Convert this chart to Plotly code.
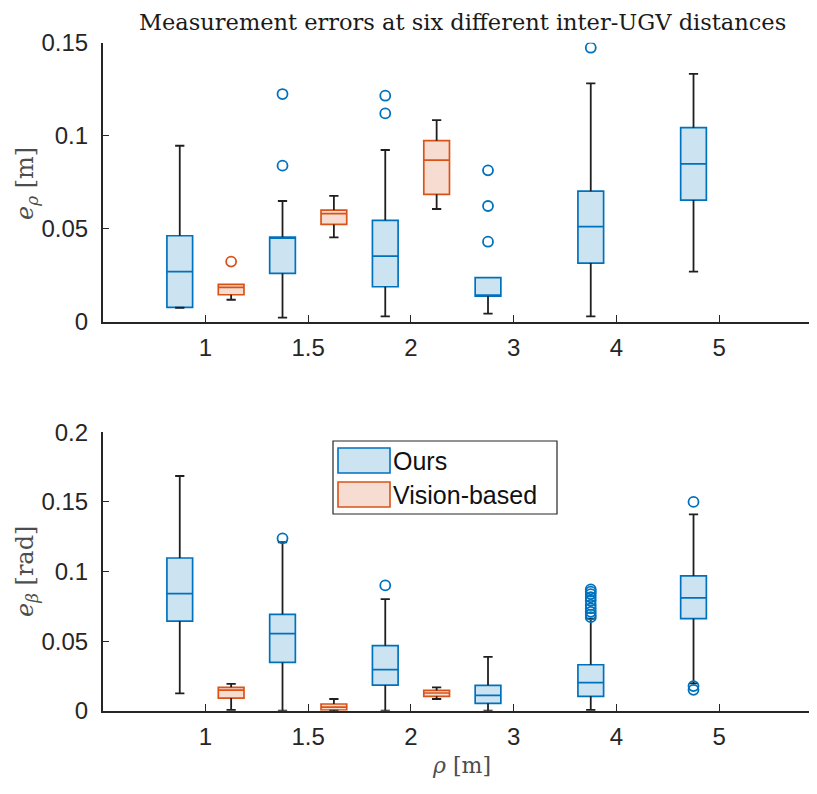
import plotly.graph_objects as go

W, H = 817, 794
OFF = 8  # page body margin in the browser

categories = ["1", "1.5", "2", "3", "4", "5"]

# ---- e_rho [m] (top) ----
rho_ours_q1 = [0.0077, 0.0260, 0.0188, 0.0138, 0.0315, 0.0654]
rho_ours_med = [0.0269, 0.0455, 0.0353, 0.0138, 0.0511, 0.0849]
rho_ours_q3 = [0.0462, 0.0455, 0.0545, 0.0237, 0.0702, 0.1043]
rho_ours_lo = [0.0075, 0.0022, 0.0029, 0.0043, 0.0029, 0.0269]
rho_ours_hi = [0.0946, 0.0649, 0.0923, 0.0237, 0.1281, 0.1332]
rho_ours_out = [[], [0.1224, 0.0839], [0.1215, 0.1120], [0.0814, 0.0622, 0.0430], [0.1473], []]

rho_vis_q1 = [0.0145, 0.0523, 0.0685]
rho_vis_med = [0.0185, 0.0581, 0.0869]
rho_vis_q3 = [0.0201, 0.0600, 0.0973]
rho_vis_lo = [0.0118, 0.0453, 0.0606]
rho_vis_hi = [0.0201, 0.0677, 0.1084]
rho_vis_out = [[0.0323], [], []]

# ---- e_beta [rad] (bottom) ----
beta_ours_q1 = [0.0644, 0.0347, 0.0184, 0.0053, 0.0103, 0.0661]
beta_ours_med = [0.0841, 0.0553, 0.0295, 0.0110, 0.0201, 0.0810]
beta_ours_q3 = [0.1097, 0.0692, 0.0467, 0.0182, 0.0330, 0.0968]
beta_ours_lo = [0.0125, 0.0000, 0.0000, 0.0000, 0.0005, 0.0196]
beta_ours_hi = [0.1686, 0.1210, 0.0802, 0.0386, 0.0661, 0.1410]
beta_ours_out = [[], [0.1238], [0.0900], [],
                 [0.0872, 0.0855, 0.0838, 0.0815, 0.0790, 0.0760, 0.0735, 0.0710, 0.0690, 0.0672],
                 [0.1500, 0.0177, 0.0150]]

beta_vis_q1 = [0.0091, 0.0005, 0.0103]
beta_vis_med = [0.0148, 0.0026, 0.0127]
beta_vis_q3 = [0.0168, 0.0048, 0.0146]
beta_vis_lo = [0.0005, 0.0000, 0.0084]
beta_vis_hi = [0.0192, 0.0084, 0.0168]
beta_vis_out = [[], [], []]

rho_ticks = [0, 0.05, 0.1, 0.15]
rho_ticktext = ["0", "0.05", "0.1", "0.15"]
beta_ticks = [0, 0.05, 0.1, 0.15, 0.2]
beta_ticktext = ["0", "0.05", "0.1", "0.15", "0.2"]

BLUE = "#0072BD"
BLUE_FILL = "#CCE3F2"
ORANGE = "#D95319"
ORANGE_FILL = "#F7DDD1"
DARK = "#262626"

OFFSET = 0.25
BOXW = 0.25
CAP = 0.045


def px(x):
    return (x - OFF) / W


def py(y):
    return 1 - (y - OFF) / H


fig = go.Figure()


def add_group(xa, ya, offset, q1, med, q3, lo, hi, outs, col, fill):
    pos = [i + 1 + offset for i in range(len(q1))]
    wx, wy = [], []
    for p, a, b, l, h in zip(pos, q1, q3, lo, hi):
        if h > b:
            wx += [p, p, None, p - CAP, p + CAP, None]
            wy += [b, h, None, h, h, None]
        if l < a:
            wx += [p, p, None, p - CAP, p + CAP, None]
            wy += [a, l, None, l, l, None]
    fig.add_trace(go.Scatter(x=wx, y=wy, mode="lines", xaxis=xa, yaxis=ya,
                             line=dict(color="#1f1f1f", width=1.8), showlegend=False,
                             hoverinfo="skip"))
    fig.add_trace(go.Box(x=pos, q1=q1, median=med, q3=q3, lowerfence=q1, upperfence=q3,
                         xaxis=xa, yaxis=ya, width=BOXW, whiskerwidth=0,
                         line=dict(color=col, width=1.7), fillcolor=fill,
                         boxpoints=False, showlegend=False))
    ox, oy = [], []
    for p, o in zip(pos, outs):
        for v in o:
            ox.append(p)
            oy.append(v)
    if ox:
        fig.add_trace(go.Scatter(x=ox, y=oy, mode="markers", xaxis=xa, yaxis=ya,
                                 marker=dict(symbol="circle-open", size=10, color=col,
                                             line=dict(width=1.8, color=col)),
                                 showlegend=False))


add_group("x", "y", -OFFSET, rho_ours_q1, rho_ours_med, rho_ours_q3, rho_ours_lo, rho_ours_hi,
          rho_ours_out, BLUE, BLUE_FILL)
add_group("x", "y", OFFSET, rho_vis_q1, rho_vis_med, rho_vis_q3, rho_vis_lo, rho_vis_hi,
          rho_vis_out, ORANGE, ORANGE_FILL)
add_group("x2", "y2", -OFFSET, beta_ours_q1, beta_ours_med, beta_ours_q3, beta_ours_lo,
          beta_ours_hi, beta_ours_out, BLUE, BLUE_FILL)
add_group("x2", "y2", OFFSET, beta_vis_q1, beta_vis_med, beta_vis_q3, beta_vis_lo,
          beta_vis_hi, beta_vis_out, ORANGE, ORANGE_FILL)

XR = [0, (817 - 102.7) / 102.75]
tickfont = dict(family="Liberation Sans, Arial, sans-serif", size=24, color=DARK)
xcommon = dict(range=XR, tickvals=list(range(1, len(categories) + 1)), ticktext=categories,
               ticks="inside", ticklen=7, tickwidth=1.2, tickcolor=DARK, showline=True,
               linecolor=DARK, linewidth=1.5, showgrid=False, zeroline=False,
               tickfont=tickfont, domain=[px(102.7), px(817)], automargin=False,
               ticklabelstandoff=4)
ycommon = dict(ticks="inside", ticklen=7, tickwidth=1.2, tickcolor=DARK, showline=True,
               linecolor=DARK, linewidth=1.5, showgrid=False, zeroline=False,
               tickfont=tickfont, automargin=False, ticklabelstandoff=8)

fig.update_layout(
    width=W, height=H,
    margin=dict(l=0, r=0, t=0, b=0, autoexpand=False),
    paper_bgcolor="white", plot_bgcolor="white",
    showlegend=False,
    xaxis=dict(**xcommon, anchor="y"),
    yaxis=dict(**ycommon, range=[0, 0.15], tickvals=rho_ticks, ticktext=rho_ticktext,
               domain=[py(321.7), py(42.7)], anchor="x"),
    xaxis2=dict(**xcommon, anchor="y2"),
    yaxis2=dict(**ycommon, range=[0, 0.2], tickvals=beta_ticks, ticktext=beta_ticktext,
                domain=[py(710.7), py(432.3)], anchor="x2"),
)

serif = "DejaVu Serif, serif"
LABEL = "#4d4d4d"
annotations = [
    dict(text="Measurement errors at six different inter-UGV distances", x=px(462), y=py(22),
         xref="paper", yref="paper", showarrow=False, xanchor="center", yanchor="middle",
         font=dict(family=serif, size=22.5, color="#1a1a1a")),
    dict(text="<i>e</i><sub><i>ρ</i></sub> [m]", x=px(26), y=py(184), xref="paper",
         yref="paper", showarrow=False, textangle=-90, xanchor="center", yanchor="middle",
         font=dict(family=serif, size=24, color=LABEL)),
    dict(text="<i>e</i><sub><i>β</i></sub> [rad]", x=px(26), y=py(572), xref="paper",
         yref="paper", showarrow=False, textangle=-90, xanchor="center", yanchor="middle",
         font=dict(family=serif, size=24, color=LABEL)),
    dict(text="<i>ρ</i> [m]", x=px(461), y=py(765), xref="paper", yref="paper",
         showarrow=False, xanchor="center", yanchor="middle",
         font=dict(family=serif, size=22, color=LABEL)),
    dict(text="Ours", x=px(391), y=py(461), xref="paper", yref="paper", showarrow=False,
         xanchor="left", yanchor="middle",
         font=dict(family="Liberation Sans, Arial, sans-serif", size=25, color="#111111")),
    dict(text="Vision-based", x=px(391), y=py(495), xref="paper", yref="paper",
         showarrow=False, xanchor="left", yanchor="middle",
         font=dict(family="Liberation Sans, Arial, sans-serif", size=25, color="#111111")),
]
shapes = [
    dict(type="rect", xref="paper", yref="paper", x0=px(333), x1=px(557), y0=py(514),
         y1=py(441), line=dict(color=DARK, width=1.2), fillcolor="white"),
    dict(type="rect", xref="paper", yref="paper", x0=px(338), x1=px(390), y0=py(473),
         y1=py(448), line=dict(color=BLUE, width=1.6), fillcolor=BLUE_FILL),
    dict(type="rect", xref="paper", yref="paper", x0=px(338), x1=px(390), y0=py(507),
         y1=py(482), line=dict(color=ORANGE, width=1.6), fillcolor=ORANGE_FILL),
]
fig.update_layout(annotations=annotations, shapes=shapes)

fig.write_html("out.html")
